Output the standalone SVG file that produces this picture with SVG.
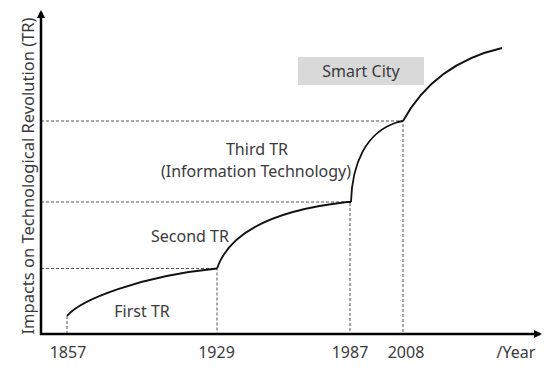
<svg xmlns="http://www.w3.org/2000/svg" width="550" height="376" viewBox="0 0 550 376">
<defs>
<style>
.t{font-family:"Noto Sans","Open Sans",sans-serif;font-size:16px;fill:#3a3a3a;text-anchor:middle}
.ax{stroke:#000;stroke-width:2.5;fill:none}
.dash{stroke:#555;stroke-width:1;stroke-dasharray:3 2;fill:none}
.curve{stroke:#111;stroke-width:1.8;fill:none;stroke-linejoin:round}
</style>
<marker id="arr" markerWidth="8" markerHeight="8" refX="6" refY="4" orient="auto" markerUnits="userSpaceOnUse">
<path d="M0,0 L8,4 L0,8 Z" fill="#000"/>
</marker>
</defs>
<rect width="550" height="376" fill="#fff"/>
<g id="guides">
<path class="dash" d="M41,121 H403 V334"/>
<path class="dash" d="M41,202 H350 V334"/>
<path class="dash" d="M41,268.5 H217 V334"/>
<path class="dash" d="M67,316 V334"/>
</g>
<g id="axes">
<line class="ax" x1="41" y1="335" x2="41" y2="12" marker-end="url(#arr)"/>
<line class="ax" x1="40" y1="334" x2="540" y2="334" marker-end="url(#arr)"/>
</g>
<g id="connectors">
<path class="curve" d="M67,316 C80,300 140,276 217,268.5"/>
<path class="curve" d="M217,268.5 C225,245 250,213 347,202 L351,202"/>
<path class="curve" d="M351,202 C352,165 365,132 398,122 L403,121"/>
<path class="curve" d="M403,121 C420,90 450,60 502,48"/>
</g>
<g id="smart-city">
<rect x="298" y="57" width="126" height="28" fill="#d9d9d9"/>
<text class="t" x="361" y="77">Smart City</text>
</g>
<g id="first-tr"><text class="t" x="142" y="317">First TR</text></g>
<g id="second-tr"><text class="t" x="190" y="242">Second TR</text></g>
<g id="third-tr">
<text class="t" x="257" y="155">Third TR</text>
<text class="t" x="256" y="177">(Information Technology)</text>
</g>
<g id="labels">
<text class="t" x="68" y="358">1857</text>
<text class="t" x="216.5" y="358">1929</text>
<text class="t" x="350" y="358">1987</text>
<text class="t" x="406" y="358">2008</text>
<text class="t" x="516" y="358">/Year</text>
<text class="t" transform="translate(34,176) rotate(-90)" style="font-size:16.5px">Impacts on Technological Revolution (TR)</text>
</g>
</svg>
